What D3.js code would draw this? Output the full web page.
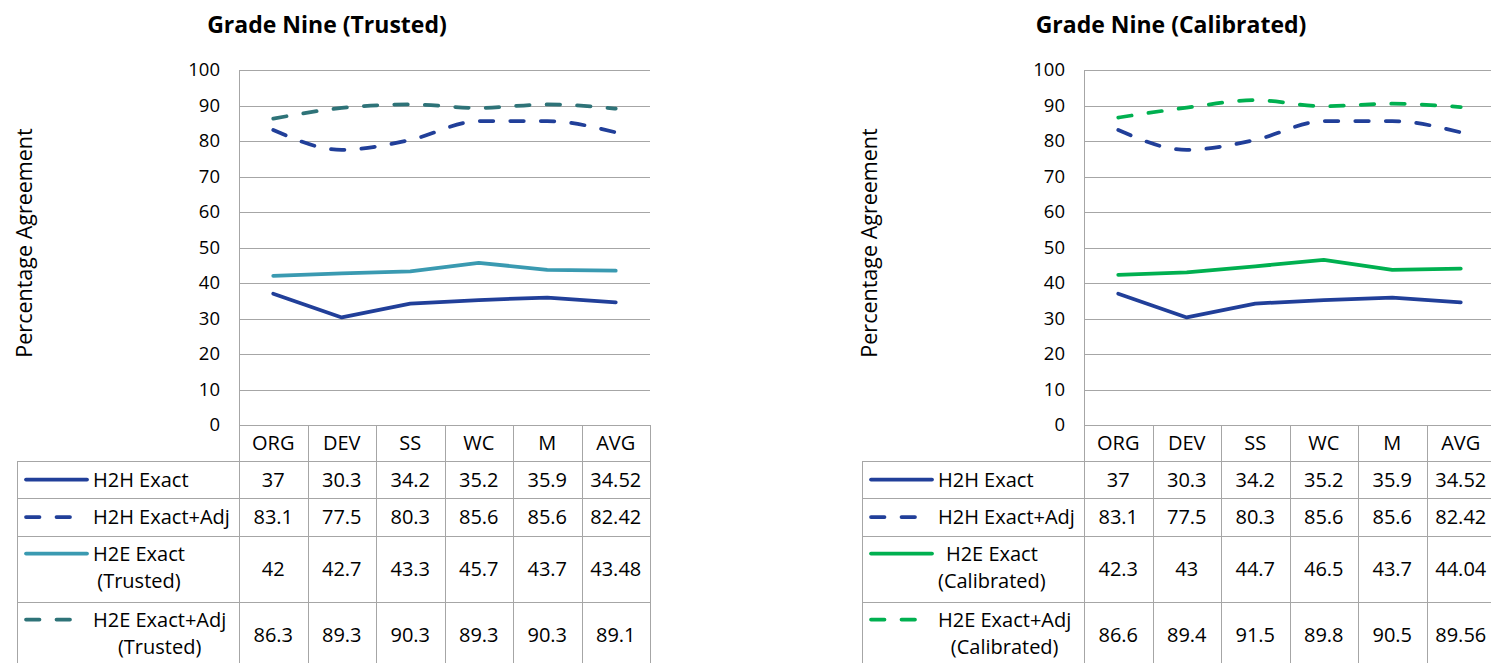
<!DOCTYPE html>
<html><head><meta charset="utf-8">
<script src="https://cdn.jsdelivr.net/npm/d3@7"></script>
<style>
body{margin:0;background:#fff;}
svg{display:block;}
text{font-family:"Open Sans",sans-serif;fill:#000;}
</style>
</head><body>
<svg id="c" width="1491" height="663"></svg>
<script>
// ---- data ----
const categories = ["ORG", "DEV", "SS", "WC", "M", "AVG"];
const yTicks = [0, 10, 20, 30, 40, 50, 60, 70, 80, 90, 100];
const titles = ["Grade Nine (Trusted)", "Grade Nine (Calibrated)"];
const yAxisLabel = "Percentage Agreement";

const h2hExact = [37, 30.3, 34.2, 35.2, 35.9, 34.52];
const h2hExactAdj = [83.1, 77.5, 80.3, 85.6, 85.6, 82.42];
const h2eExactTrusted = [42, 42.7, 43.3, 45.7, 43.7, 43.48];
const h2eExactAdjTrusted = [86.3, 89.3, 90.3, 89.3, 90.3, 89.1];
const h2eExactCalibrated = [42.3, 43, 44.7, 46.5, 43.7, 44.04];
const h2eExactAdjCalibrated = [86.6, 89.4, 91.5, 89.8, 90.5, 89.56];

const labelsTrusted = [["H2H Exact"], ["H2H Exact+Adj"], ["H2E Exact", "(Trusted)"], ["H2E Exact+Adj", "(Trusted)"]];
const labelsCalibrated = [["H2H Exact"], ["H2H Exact+Adj"], ["H2E Exact", "(Calibrated)"], ["H2E Exact+Adj", "(Calibrated)"]];

// ---- styles ----
const C_H2H = "#213F99";
const C_TRUST = "#3A9AB1";
const C_TRUST_ADJ = "#2E7378";
const C_CAL = "#00B050";
const GRID = "#A6A6A6";

const panels = [
  { tableLeft: 17, plotLeft: 239, title: titles[0], titleX: 327,
    series: [
      { values: h2hExact, label: labelsTrusted[0], color: C_H2H, dashed: false },
      { values: h2hExactAdj, label: labelsTrusted[1], color: C_H2H, dashed: true },
      { values: h2eExactTrusted, label: labelsTrusted[2], color: C_TRUST, dashed: false },
      { values: h2eExactAdjTrusted, label: labelsTrusted[3], color: C_TRUST_ADJ, dashed: true }
    ] },
  { tableLeft: 862, plotLeft: 1084, title: titles[1], titleX: 1171,
    series: [
      { values: h2hExact, label: labelsCalibrated[0], color: C_H2H, dashed: false },
      { values: h2hExactAdj, label: labelsCalibrated[1], color: C_H2H, dashed: true },
      { values: h2eExactCalibrated, label: labelsCalibrated[2], color: C_CAL, dashed: false },
      { values: h2eExactAdjCalibrated, label: labelsCalibrated[3], color: C_CAL, dashed: true }
    ] }
];

const svg = d3.select("#c");
const plotTop = 70, plotBottom = 425, plotW = 411;
const rowBounds = [461, 498, 536, 602, 668];
const DASH = "13.5,17";
const SW = 3.75;
const FS = "20px";

panels.forEach(p => {
  const g = svg.append("g");
  const x = d3.scaleBand().domain(categories).range([p.plotLeft, p.plotLeft + plotW]);
  const y = d3.scaleLinear().domain([0, 100]).range([plotBottom, plotTop]);
  const cx = c => x(c) + x.bandwidth() / 2;
  const right = p.plotLeft + plotW;

  // title
  g.append("text").attr("x", p.titleX).attr("y", 33).attr("text-anchor", "middle")
    .style("font-size", "23px").style("font-weight", "bold").text(p.title);

  // y axis title
  g.append("text").attr("transform", `translate(${p.tableLeft + 6},243) rotate(-90)`)
    .attr("text-anchor", "middle").attr("dominant-baseline", "central")
    .style("font-size", "21.5px").text(yAxisLabel);

  // gridlines
  g.selectAll("line.grid").data(yTicks).enter().append("line")
    .attr("x1", p.plotLeft).attr("x2", right)
    .attr("y1", d => Math.round(y(d)) + 0.5).attr("y2", d => Math.round(y(d)) + 0.5)
    .attr("stroke", GRID).attr("stroke-width", 1);

  // y tick labels via axis
  const yAxis = d3.axisLeft(y).tickValues(yTicks).tickSize(0).tickPadding(19);
  const ya = g.append("g").attr("transform", `translate(${p.plotLeft},0)`).call(yAxis);
  ya.select(".domain").remove();
  ya.selectAll("text").style("font-size", "18.5px").style("font-family", '"Open Sans",sans-serif').attr("fill", "#000");

  // table lines
  const bottom = rowBounds[rowBounds.length - 1];
  const vx = categories.map(c => x(c)).concat([right]);
  g.selectAll("line.v").data(vx).enter().append("line")
    .attr("x1", d => Math.round(d) + 0.5).attr("x2", d => Math.round(d) + 0.5)
    .attr("y1", (d, i) => i === 0 ? plotTop : plotBottom).attr("y2", bottom)
    .attr("stroke", GRID);
  g.append("line").attr("x1", p.tableLeft + 0.5).attr("x2", p.tableLeft + 0.5)
    .attr("y1", rowBounds[0]).attr("y2", bottom).attr("stroke", GRID);
  g.selectAll("line.h").data(rowBounds.slice(0, -1)).enter().append("line")
    .attr("x1", p.tableLeft).attr("x2", right)
    .attr("y1", d => d + 0.5).attr("y2", d => d + 0.5).attr("stroke", GRID);

  // category header
  g.selectAll("text.cat").data(categories).enter().append("text")
    .attr("x", d => cx(d)).attr("y", (plotBottom + rowBounds[0]) / 2 + 7)
    .attr("text-anchor", "middle").style("font-size", FS).text(d => d);

  // rows
  p.series.forEach((s, i) => {
    const top = rowBounds[i], bot = rowBounds[i + 1];
    const mid = (top + bot) / 2;
    const n = s.label.length;
    const lh = 27;
    const firstCenter = mid - (n - 1) * lh / 2 - (n > 1 ? 2 : 0);
    g.append("line").attr("x1", p.tableLeft + 9).attr("x2", p.tableLeft + 70)
      .attr("y1", firstCenter).attr("y2", firstCenter)
      .attr("stroke", s.color).attr("stroke-width", SW).attr("stroke-linecap", "round")
      .attr("stroke-dasharray", s.dashed ? DASH : null);
    const texts = s.label.map((t, k) => g.append("text")
      .attr("y", firstCenter + k * lh + 7).attr("text-anchor", "middle")
      .style("font-size", FS).text(t));
    const maxW = d3.max(texts, t => t.node().getComputedTextLength());
    texts.forEach(t => t.attr("x", p.tableLeft + 76 + maxW / 2));
    g.selectAll(null).data(s.values).enter().append("text")
      .attr("x", (d, j) => cx(categories[j])).attr("y", mid + 7)
      .attr("text-anchor", "middle").style("font-size", FS).text(d => String(d));

    const line = d3.line().x((d, j) => cx(categories[j])).y(d => y(d))
      .curve(s.dashed ? d3.curveMonotoneX : d3.curveLinear);
    g.append("path").datum(s.values).attr("d", line).attr("fill", "none")
      .attr("stroke", s.color).attr("stroke-width", SW).attr("stroke-linecap", "round")
      .attr("stroke-linejoin", "round")
      .attr("stroke-dasharray", s.dashed ? DASH : null);
  });
});
</script>
</body></html>
